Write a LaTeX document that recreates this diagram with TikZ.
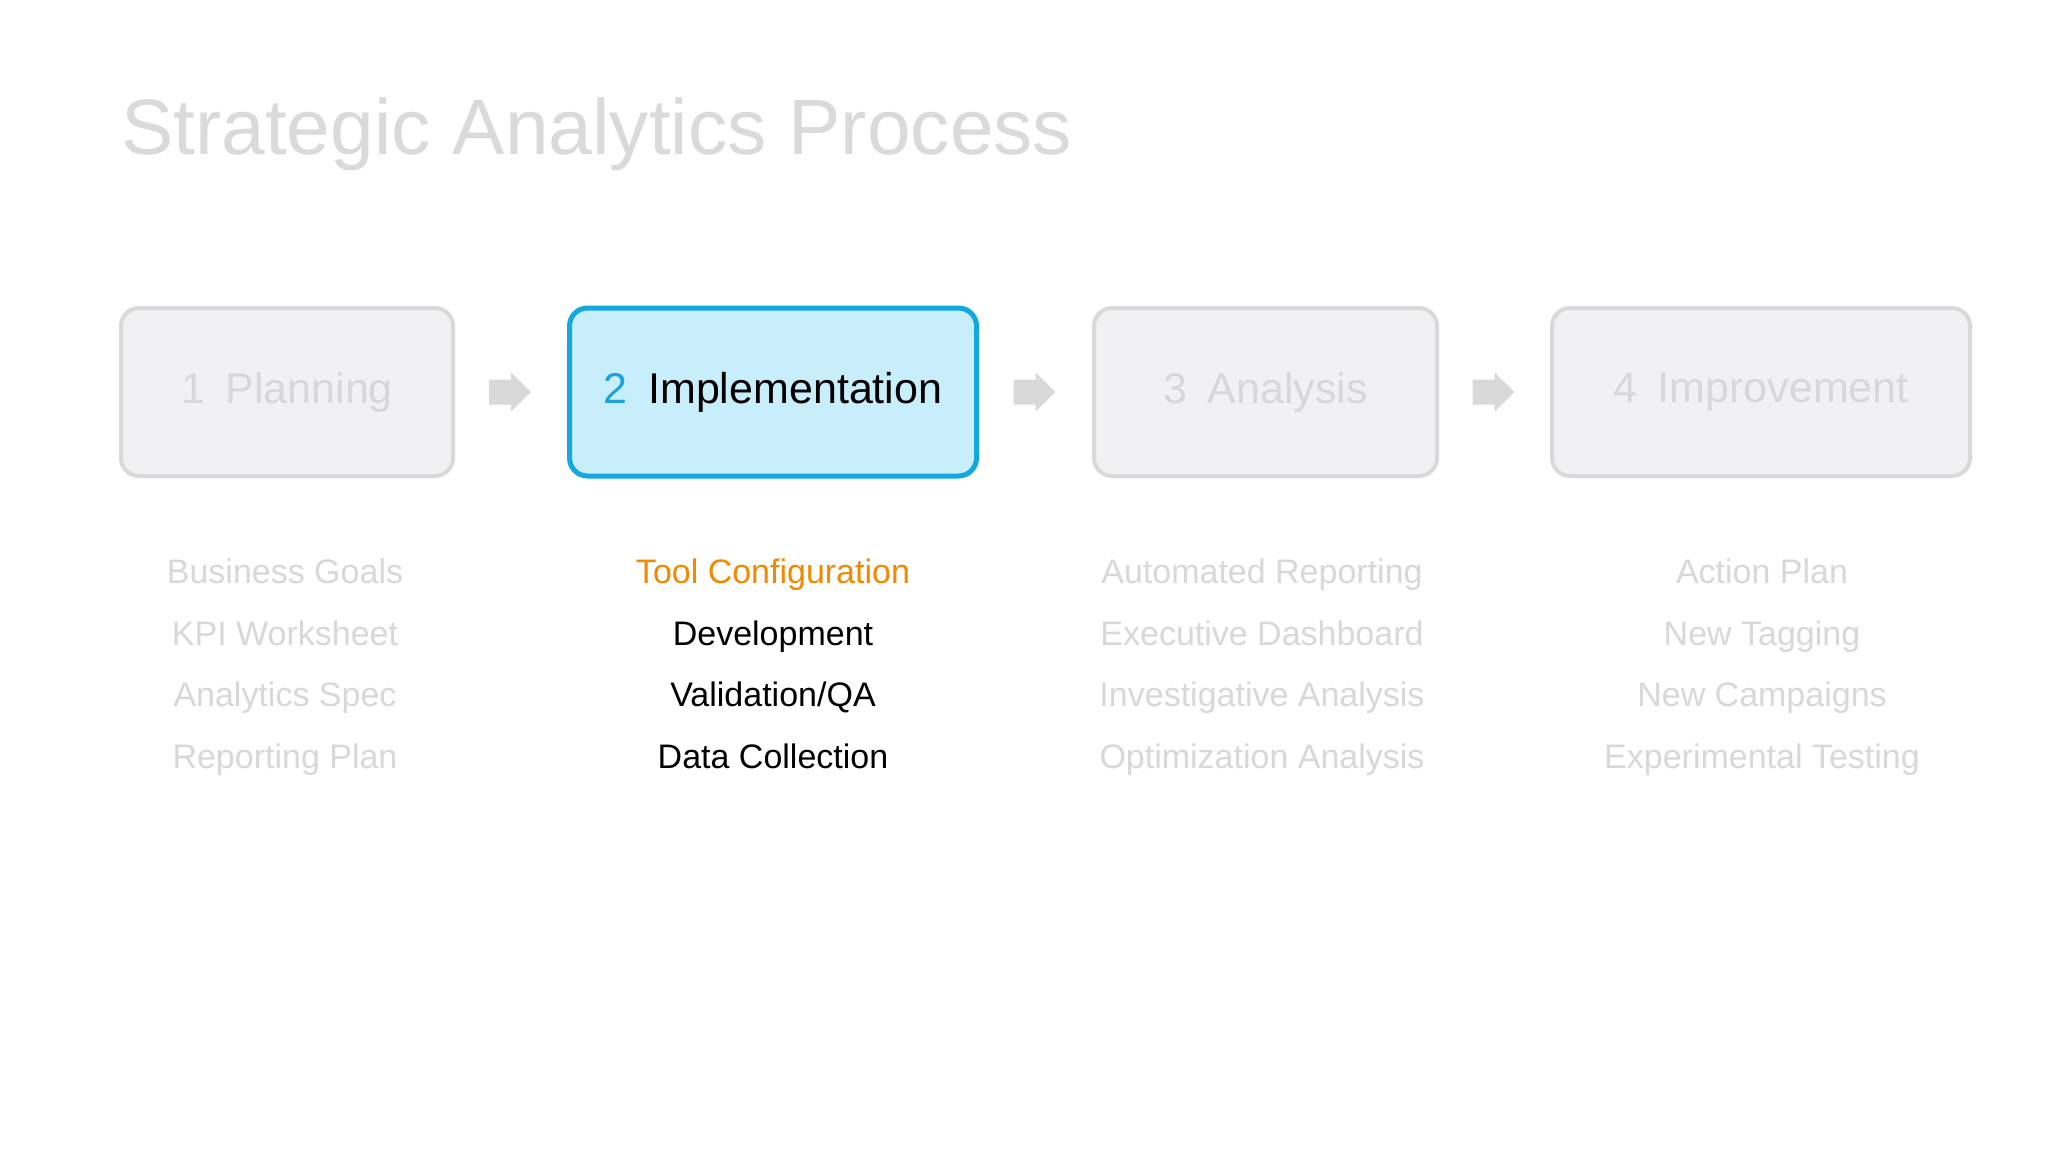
\documentclass[tikz,border=0pt]{standalone}
\usepackage{fontspec}
\setmainfont{Liberation Sans}
\usetikzlibrary{calc}
\definecolor{titlegray}{RGB}{218,218,218}
\definecolor{textgray}{RGB}{216,216,219}
\definecolor{boxfill}{RGB}{241,241,243}
\definecolor{boxline}{RGB}{217,217,218}
\definecolor{hifill}{RGB}{200,238,252}
\definecolor{hiline}{RGB}{19,168,224}
\definecolor{hinum}{RGB}{27,163,220}
\definecolor{hiorange}{RGB}{240,138,0}
\definecolor{arrowgray}{RGB}{217,217,217}
\newcommand\phasetxt[2]{#1\hspace{0.48em}#2}
\tikzset{
  phasebox/.style={rounded corners=18pt, minimum height=168pt, inner sep=0pt,
    font=\fontsize{43}{52}\selectfont},
  greybox/.style={phasebox, draw=boxline, fill=boxfill, line width=4pt, text=textgray},
  hibox/.style={phasebox, draw=hiline, fill=hifill, line width=5pt, text=black},
  blockarrow/.style={fill=arrowgray, draw=none},
  item/.style={anchor=base, inner sep=0pt, font=\fontsize{34}{40}\selectfont, text=textgray},
  hiitem/.style={item, text=black},
}
\begin{document}
\begin{tikzpicture}[x=1pt,y=-1pt]
\useasboundingbox[fill=white] (0,0) rectangle (2048,1152);

\node[anchor=base west, inner sep=0pt, text=titlegray, font=\fontsize{78.5}{90}\selectfont]
  (title) at (121,154) {Strategic Analytics Process};

\node[greybox, minimum width=332pt] (b1) at (287,392) {\phasetxt{1}{Planning}};
\node[hibox, minimum width=407pt] (b2) at (773,392) {\phasetxt{\textcolor{hinum}{2}}{Implementation}};
\node[greybox, minimum width=343pt] (b3) at (1265.5,392) {\phasetxt{3}{Analysis}};
\node[greybox, minimum width=418pt] (b4) at (1761,392) {\phasetxt{4}{Improvement}};

\coordinate (a1) at ($(b1.east)!0.5!(b2.west)$);
\coordinate (a2) at ($(b2.east)!0.5!(b3.west)$);
\coordinate (a3) at ($(b3.east)!0.5!(b4.west)$);
\foreach \a in {a1,a2,a3}
  \fill[blockarrow, shift={(\a)}] (-22,-12.5) -- (0,-12.5) -- (0,-19.5) -- (20,0)
    -- (0,19.5) -- (0,12.5) -- (-22,12.5) -- cycle;

\node[item] (l11) at (285,583.5) {Business Goals};
\node[item] (l12) at (285,645) {KPI Worksheet};
\node[item] (l13) at (285,706.5) {Analytics Spec};
\node[item] (l14) at (285,768) {Reporting Plan};

\node[item, text=hiorange] (l21) at (773,583.5) {Tool Configuration};
\node[hiitem] (l22) at (773,645) {Development};
\node[hiitem] (l23) at (773,706.5) {Validation/QA};
\node[hiitem] (l24) at (773,768) {Data Collection};

\node[item] (l31) at (1262,583.5) {Automated Reporting};
\node[item] (l32) at (1262,645) {Executive Dashboard};
\node[item] (l33) at (1262,706.5) {Investigative Analysis};
\node[item] (l34) at (1262,768) {Optimization Analysis};

\node[item] (l41) at (1762,583.5) {Action Plan};
\node[item] (l42) at (1762,645) {New Tagging};
\node[item] (l43) at (1762,706.5) {New Campaigns};
\node[item] (l44) at (1762,768) {Experimental Testing};
\end{tikzpicture}
\end{document}
